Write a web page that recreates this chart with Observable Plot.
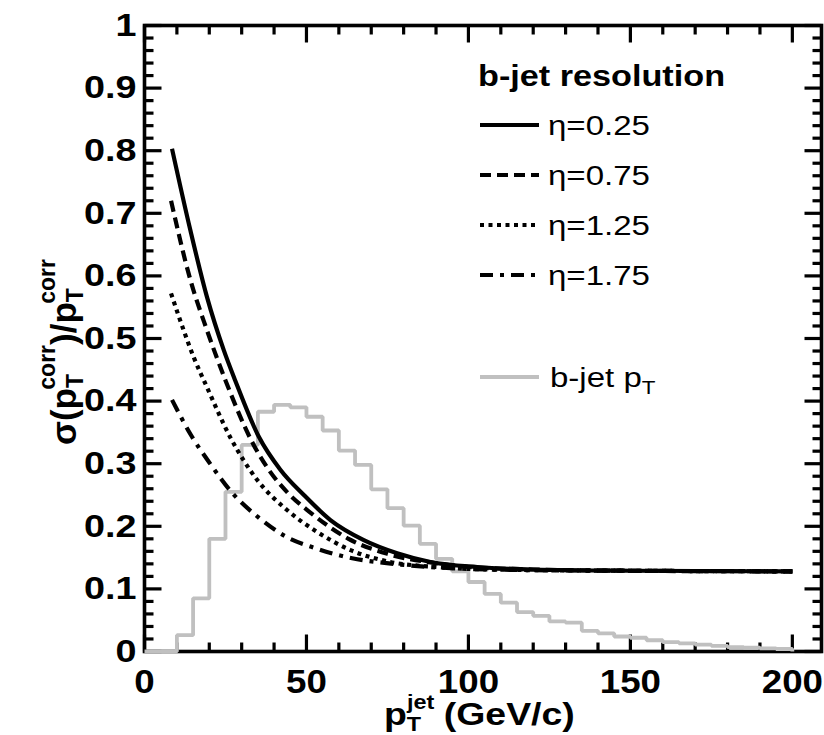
<!DOCTYPE html>
<html><head><meta charset="utf-8">
<script src="https://cdn.jsdelivr.net/npm/d3@7"></script>
<script src="https://cdn.jsdelivr.net/npm/@observablehq/plot@0.6"></script>
<style>
html,body{margin:0;padding:0;background:#fff;overflow:hidden;}
#chart svg{display:block;}
</style>
</head><body><div id="chart"></div>
<script>
// ---------- data ----------
const histBinLow = [0,5,10,15,20,25,30,35,40,45,50,55,60,65,70,75,80,85,90,95,100,105,110,115,120,125,130,135,140,145,150,155,160,165,170,175,180,185,190,195];
const histValues = [0,0,0.026,0.085,0.18,0.255,0.33,0.383,0.394,0.39,0.375,0.353,0.321,0.298,0.259,0.229,0.201,0.172,0.148,0.128,0.111,0.092,0.078,0.063,0.057,0.048,0.046,0.033,0.029,0.024,0.022,0.018,0.015,0.013,0.011,0.009,0.007,0.006,0.005,0.004];
const histEnd = 200;

const eta025X = [8.5,14.2,19.3,24.5,28,35.3,42,49.2,57.4,67.7,78,88.3,102.7,120,150,200];
const eta025Y = [0.803,0.672,0.566,0.481,0.433,0.343,0.29,0.25,0.21,0.178,0.157,0.143,0.135,0.131,0.129,0.128];
const eta075X = [8.2,14.2,19.3,25,33.7,38.4,44.5,51.2,57.4,63,75,90,100,120,150,200];
const eta075Y = [0.72,0.593,0.513,0.433,0.33,0.29,0.252,0.222,0.198,0.18,0.156,0.141,0.135,0.131,0.129,0.128];
const eta125X = [8.2,12.1,15.2,19.3,26.5,34.8,44,53.3,63.6,75.9,90,100,120,150,200];
const eta125Y = [0.572,0.513,0.47,0.422,0.342,0.274,0.226,0.191,0.162,0.143,0.135,0.132,0.13,0.129,0.128];
const eta175X = [8.5,14.2,20.4,26.8,35,43.5,52.8,64.1,77,100,120,150,200];
const eta175Y = [0.402,0.347,0.299,0.255,0.215,0.184,0.165,0.149,0.14,0.132,0.13,0.129,0.128];

const seriesLabels = ["η=0.25","η=0.75","η=1.25","η=1.75"];
const histLabel = "b-jet p";
const legendTitle = "b-jet resolution";

const xMajorTicks = [0,50,100,150,200];
const xTickLabels = ["0","50","100","150","200"];
const xMinorTicks = [10,20,30,40,60,70,80,90,110,120,130,140,160,170,180,190];
const yMajorTicks = [0,0.1,0.2,0.3,0.4,0.5,0.6,0.7,0.8,0.9,1];
const yTickLabels = ["0","0.1","0.2","0.3","0.4","0.5","0.6","0.7","0.8","0.9","1"];
const yMinorTicks = [0.02,0.04,0.06,0.08,0.12,0.14,0.16,0.18,0.22,0.24,0.26,0.28,0.32,0.34,0.36,0.38,0.42,0.44,0.46,0.48,0.52,0.54,0.56,0.58,0.62,0.64,0.66,0.68,0.72,0.74,0.76,0.78,0.82,0.84,0.86,0.88,0.92,0.94,0.96,0.98];

// ---------- layout ----------
const W = 824, H = 735, ML = 144, MR = 3, MT = 25, MB = 84;
const XMAX = 209;
const MAJ = 17, MIN = 9;
const lineW = 4.2;
const GREY = "#c0c0c0";
const FONT = "'Liberation Sans', Arial, Helvetica, sans-serif";
const dashes = [null, "11,6", "4,4.5", "13,7,4,7"];

// ---------- build tables ----------
const histRows = histBinLow.map((b,i)=>({x:b, y:histValues[i]}));
histRows.push({x:histEnd, y:histValues[histValues.length-1]});
histRows.push({x:histEnd, y:0});
const mk = (X,Y)=>X.map((x,i)=>({x, y:Y[i]}));
const curves = [mk(eta025X,eta025Y), mk(eta075X,eta075Y), mk(eta125X,eta125Y), mk(eta175X,eta175Y)];

// tick segments (pixel lengths converted to data units of the fixed scales)
const pxX = XMAX / (W - ML - MR), pxY = 1 / (H - MT - MB);
const tickRows = [];
let tid = 0;
const pushX = (vals, len) => vals.forEach(v => {
  tickRows.push({x:v, y:0, id:tid}, {x:v, y:len*pxY, id:tid}); tid++;
  tickRows.push({x:v, y:1, id:tid}, {x:v, y:1-len*pxY, id:tid}); tid++;
});
const pushY = (vals, len) => vals.forEach(v => {
  tickRows.push({x:0, y:v, id:tid}, {x:len*pxX, y:v, id:tid}); tid++;
  tickRows.push({x:XMAX, y:v, id:tid}, {x:XMAX-len*pxX, y:v, id:tid}); tid++;
});
pushX(xMajorTicks, MAJ); pushX(xMinorTicks, MIN);
pushY(yMajorTicks, MAJ); pushY(yMinorTicks, MIN);

const marks = [
  Plot.frame({stroke:"black", strokeWidth:3.6}),
  Plot.line(tickRows, {x:"x", y:"y", z:"id", stroke:"black", strokeWidth:3.2, strokeLinecap:"butt"}),
  Plot.line(histRows, {x:"x", y:"y", curve:"step-after", stroke:GREY, strokeWidth:3.8, strokeLinecap:"butt", strokeLinejoin:"miter"})
];
curves.forEach((c,i)=>{
  marks.push(Plot.line(c, {x:"x", y:"y", curve:"monotone-x", stroke:"black", strokeWidth:lineW, strokeLinecap:"butt", strokeDasharray: dashes[i] || undefined}));
});
marks.push(Plot.axisX(xMajorTicks, {tickSize:0, tickPadding:17, tickFormat:(d)=>xTickLabels[xMajorTicks.indexOf(d)], fontSize:34, fontWeight:"bold", label:null}));
marks.push(Plot.axisY(yMajorTicks, {tickSize:0, tickPadding:8, tickFormat:(d)=>yTickLabels[yMajorTicks.indexOf(d)], fontSize:32, fontWeight:"bold", label:null}));

const chart = Plot.plot({
  width:W, height:H,
  marginLeft:ML, marginRight:MR, marginTop:MT, marginBottom:MB,
  x:{domain:[0,XMAX]},
  y:{domain:[0,1]},
  style:{fontFamily:FONT, background:"white", color:"black"},
  marks
});
document.getElementById("chart").appendChild(chart);

const SX = 1.18, SXX = 1.08;
d3.select(chart).selectAll('g[aria-label="y-axis tick label"] text').each(function(){
  const t = this.getAttribute("transform") || "";
  this.setAttribute("transform", t + ` scale(${SX},1)`);
});
d3.select(chart).selectAll('g[aria-label="x-axis tick label"] text').each(function(){
  const t = this.getAttribute("transform") || "";
  this.setAttribute("transform", t + ` scale(${SXX},1)`);
});

const svg = d3.select(chart);

// ---------- legend and axis titles ----------
const g = svg.append("g").attr("font-family", FONT).attr("fill","black").attr("text-anchor","start");

g.append("text").attr("transform",`translate(478,86) scale(${SX},1)`)
  .attr("font-size",29).attr("font-weight","bold").text(legendTitle);

const rowsY = [125,175,225,275];
seriesLabels.forEach((lab,i)=>{
  g.append("line").attr("x1",480).attr("x2",539).attr("y1",rowsY[i]).attr("y2",rowsY[i])
    .attr("stroke","black").attr("stroke-width",lineW).attr("stroke-dasharray", dashes[i] || null);
  g.append("text").attr("transform",`translate(548,${rowsY[i]+10}) scale(${SX},1)`)
    .attr("font-size",28).text(lab);
});
g.append("line").attr("x1",480).attr("x2",539).attr("y1",377).attr("y2",377)
  .attr("stroke",GREY).attr("stroke-width",lineW);
const ht = g.append("text").attr("transform",`translate(550,387) scale(${SX},1)`).attr("font-size",28);
ht.append("tspan").text(histLabel);
ht.append("tspan").attr("font-size",19).attr("dy",7).text("T");

// x title
const xt = g.append("text").attr("transform",`translate(384,725) scale(1.17,1)`)
  .attr("font-size",32).attr("font-weight","bold");
xt.append("tspan").text("p");
xt.append("tspan").attr("font-size",20).attr("dy",6).text("T");
xt.append("tspan").attr("font-size",20).attr("dx",-12).attr("dy",-22).text("jet");
xt.append("tspan").attr("dy",16).attr("dx",8).text("(GeV/c)");

// y title
const yt = g.append("text").attr("transform",`translate(76,445) rotate(-90)`)
  .attr("font-size",35).attr("font-weight","bold");
yt.append("tspan").text("σ(p");
yt.append("tspan").attr("font-size",23).attr("dy",7).text("T");
yt.append("tspan").attr("font-size",23).attr("dx",-14).attr("dy",-28).text("corr");
yt.append("tspan").attr("dy",21).text(")/p");
yt.append("tspan").attr("font-size",23).attr("dy",7).text("T");
yt.append("tspan").attr("font-size",23).attr("dx",-14).attr("dy",-28).text("corr");
</script>
</body></html>
